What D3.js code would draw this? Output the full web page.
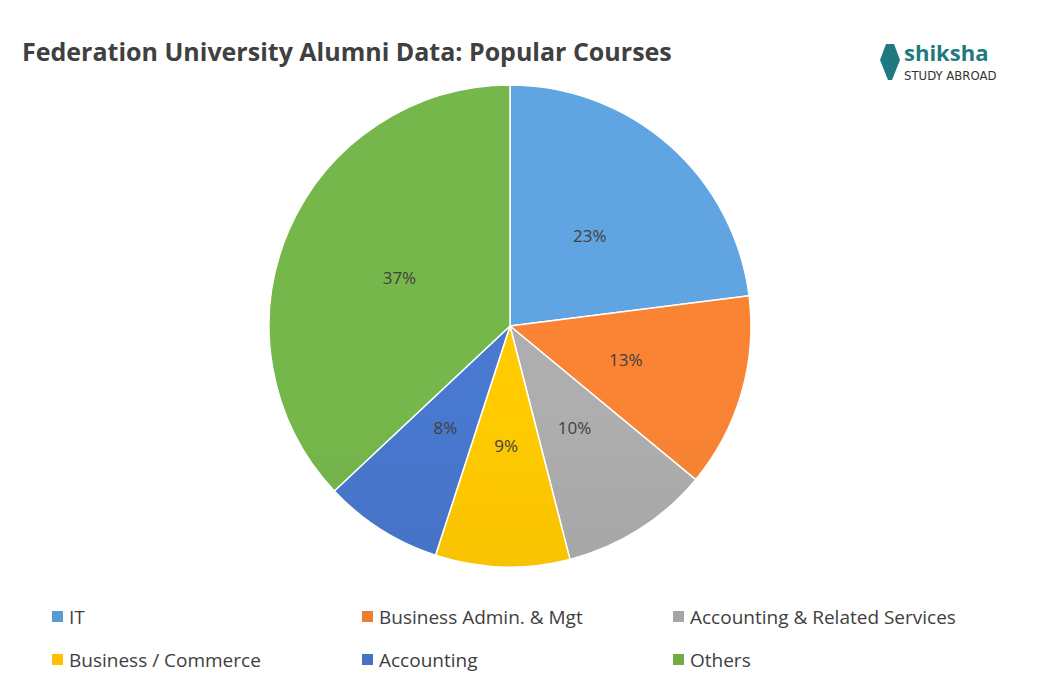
<!DOCTYPE html>
<html><head><meta charset="utf-8">
<script src="https://cdn.jsdelivr.net/npm/d3@7"></script>
<style>body{margin:0;background:#fff;}</style>
</head><body>
<svg id="c" width="1049" height="687"></svg>
<script>
const categories = ["IT","Business Admin. & Mgt","Accounting & Related Services","Business / Commerce","Accounting","Others"];
const values = [23,13,10,9,8,37];
const colors = ["#5b9bd5","#ed7d31","#a5a5a5","#ffc000","#4472c4","#70ad47"];

const svg = d3.select("#c");
const font = "'Open Sans', 'Liberation Sans', sans-serif";
svg.append("text").attr("x",22).attr("y",61).attr("font-family",font).attr("font-weight","bold")
  .attr("font-size",25).attr("fill","#404040").text("Federation University Alumni Data: Popular Courses");

// logo
const lg = svg.append("g").attr("transform","translate(880,42)");
lg.append("path").attr("d","M6 2 L14 2 L20 18 L12 38 L8 38 L0 18 Z").attr("fill","#1f7a80");
lg.append("text").attr("x",24).attr("y",19).attr("font-family",font).attr("font-weight","bold").attr("font-size",22).attr("fill","#1f7a80").text("shiksha");
lg.append("text").attr("x",24).attr("y",38).attr("font-family","'DejaVu Sans Condensed','Liberation Sans Narrow',sans-serif").attr("font-size",13).attr("fill","#333").text("STUDY ABROAD");

const cx=510, cy=326, r=241;
const defs = svg.append("defs");
colors.forEach((c,i)=>{
  const g = defs.append("linearGradient").attr("id","g"+i).attr("gradientUnits","userSpaceOnUse")
    .attr("x1",0).attr("y1",cy-r).attr("x2",0).attr("y2",cy+r);
  g.append("stop").attr("offset","0%").attr("stop-color",d3.color(c).brighter(0.15));
  g.append("stop").attr("offset","100%").attr("stop-color",d3.color(c).darker(0.25));
});
const pie = d3.pie().sort(null).value(d=>d)(values);
const arc = d3.arc().innerRadius(0).outerRadius(r);
const lab = d3.arc().innerRadius(r*0.5).outerRadius(r*0.5);
const pg = svg.append("g").attr("transform",`translate(${cx},${cy})`);
pg.selectAll("path").data(pie).join("path").attr("d",arc)
  .attr("fill",(d,i)=>`url(#g${i})`).attr("stroke","#fff").attr("stroke-width",1.5);
pg.selectAll("text").data(pie).join("text")
  .attr("transform",d=>`translate(${lab.centroid(d)})`).attr("text-anchor","middle").attr("dy","0.35em")
  .attr("font-family",font).attr("font-size",17).attr("fill","#404040").text(d=>d.data+"%");

const lx=[52,362,673], ly=[617,660];
categories.forEach((c,i)=>{
  const x=lx[i%3], y=ly[Math.floor(i/3)];
  svg.append("rect").attr("x",x).attr("y",y-6).attr("width",11).attr("height",11).attr("fill",colors[i]);
  svg.append("text").attr("x",x+17).attr("y",y).attr("dy","0.35em").attr("font-family",font)
    .attr("font-size",19).attr("fill","#404040").text(c);
});
</script>
</body></html>
